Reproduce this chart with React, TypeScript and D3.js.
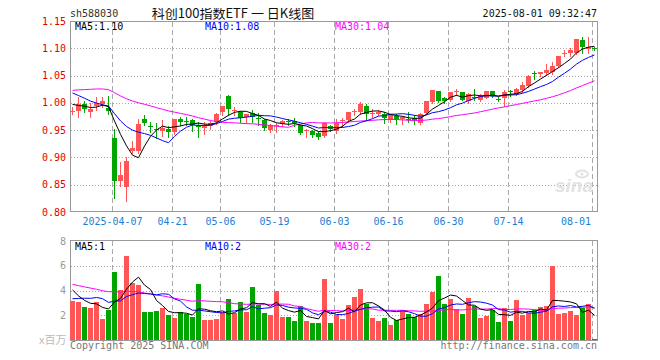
import * as d3 from "d3";

// closes and volumes of the 29 sessions before the first visible candle (only feed the MA lines)
const closesBefore = [
  0.968, 0.975, 0.972, 0.98, 1.005, 1.018, 1.03, 1.042, 1.05, 1.045, 1.055, 1.048, 1.04, 1.052, 1.045,
  1.035, 1.04, 1.03, 1.032, 1.041, 1.045, 1.038, 1.042, 1.035, 1.035, 1.008, 0.995, 1.002, 0.996,
];
const volumesBefore = [
  6.2, 5.8, 5.5, 6.0, 5.2, 4.8, 5.6, 5.0, 4.6, 5.3, 4.9, 5.4, 4.7, 5.1, 4.4, 4.8, 5.0, 4.6, 4.4, 4.4,
  2.8, 2.5, 2.7, 2.4, 2.65, 5.5, 4.5, 3.8, 3.28,
];

// 2025-03-26 .. 2025-08-01, one entry per trading day
const opens = [
  0.983, 0.985, 0.998, 0.983, 0.994, 0.997, 0.991, 0.936, 0.857, 0.845,
  0.911, 0.911, 0.97, 0.958, 0.953, 0.948, 0.953, 0.946, 0.97, 0.967,
  0.968, 0.96, 0.954, 0.957, 0.965, 0.983, 1.012, 0.985, 0.983, 0.974,
  0.982, 0.973, 0.969, 0.951, 0.958, 0.962, 0.967, 0.966, 0.959, 0.949,
  0.949, 0.944, 0.94, 0.958, 0.948, 0.966, 0.968, 0.984, 0.984, 0.995,
  0.979, 0.979, 0.979, 0.968, 0.976, 0.97, 0.971, 0.973, 0.963, 0.981,
  1.002, 1.021, 1.009, 1.006, 1.019, 1.019, 1.004, 1.01, 1.006, 1.009,
  1.021, 1.007, 1.009, 1.021, 1.016, 1.023, 1.031, 1.055, 1.053, 1.054,
  1.057, 1.068, 1.09, 1.092, 1.091, 1.115, 1.098, 1.1,
];
const highs = [
  0.992, 1.01, 1.003, 1.0, 1.011, 1.011, 1.013, 0.952, 0.891, 0.901,
  0.931, 0.971, 0.977, 0.965, 0.963, 0.968, 0.957, 0.97, 0.974, 0.975,
  0.971, 0.965, 0.965, 0.966, 0.982, 0.994, 1.015, 0.992, 0.985, 0.98,
  0.987, 0.981, 0.971, 0.962, 0.963, 0.969, 0.97, 0.973, 0.96, 0.952,
  0.951, 0.948, 0.965, 0.959, 0.97, 0.972, 0.984, 0.988, 1.002, 0.997,
  0.989, 0.986, 0.983, 0.98, 0.98, 0.976, 0.984, 0.978, 0.981, 1.003,
  1.024, 1.022, 1.011, 1.02, 1.025, 1.02, 1.018, 1.026, 1.016, 1.022,
  1.022, 1.011, 1.023, 1.023, 1.028, 1.039, 1.051, 1.059, 1.057, 1.072,
  1.074, 1.086, 1.096, 1.1, 1.117, 1.12, 1.12, 1.102,
];
const lows = [
  0.98, 0.974, 0.984, 0.974, 0.986, 0.993, 0.98, 0.825, 0.848, 0.82,
  0.909, 0.909, 0.959, 0.946, 0.936, 0.94, 0.938, 0.943, 0.959, 0.959,
  0.949, 0.938, 0.943, 0.953, 0.962, 0.977, 0.977, 0.978, 0.965, 0.963,
  0.965, 0.96, 0.951, 0.946, 0.946, 0.957, 0.96, 0.958, 0.943, 0.938,
  0.938, 0.933, 0.937, 0.949, 0.944, 0.955, 0.965, 0.978, 0.98, 0.969,
  0.975, 0.977, 0.963, 0.965, 0.962, 0.962, 0.965, 0.962, 0.962, 0.979,
  1.0, 1.002, 1.0, 1.003, 1.014, 1.005, 0.999, 1.005, 1.004, 1.008,
  1.01, 1.003, 0.994, 1.012, 1.014, 1.02, 1.029, 1.043, 1.049, 1.051,
  1.053, 1.066, 1.086, 1.086, 1.09, 1.091, 1.091, 1.096,
];
const closes = [
  0.985, 0.998, 0.989, 0.989, 1.0, 1.003, 0.985, 0.856, 0.868, 0.894,
  0.918, 0.961, 0.963, 0.957, 0.952, 0.954, 0.947, 0.97, 0.965, 0.966,
  0.959, 0.955, 0.96, 0.963, 0.98, 0.994, 0.989, 0.987, 0.973, 0.979,
  0.974, 0.972, 0.954, 0.959, 0.959, 0.966, 0.965, 0.963, 0.944, 0.95,
  0.942, 0.937, 0.964, 0.952, 0.964, 0.968, 0.983, 0.985, 0.997, 0.979,
  0.981, 0.984, 0.973, 0.977, 0.968, 0.975, 0.97, 0.968, 0.979, 1.003,
  1.023, 1.003, 1.003, 1.019, 1.021, 1.006, 1.017, 1.009, 1.012, 1.021,
  1.012, 1.006, 1.02, 1.02, 1.026, 1.033, 1.05, 1.053, 1.056, 1.06,
  1.068, 1.085, 1.092, 1.096, 1.117, 1.103, 1.103, 1.099,
];
const volumes = [
  3.17, 3.09, 2.68, 2.6, 3.09, 1.72, 2.44, 5.5, 4.05, 6.79,
  4.64, 4.43, 2.28, 2.28, 2.34, 2.6, 2.04, 1.77, 2.28, 2.12,
  1.88, 4.54, 1.64, 1.64, 1.72, 2.23, 3.3, 2.15, 3.09, 2.28,
  4.27, 2.85, 2.17, 2.04, 3.97, 1.83, 1.88, 1.53, 2.74, 1.53,
  1.37, 1.37, 4.94, 1.37, 2.04, 1.72, 2.82, 3.46, 4.11, 2.9,
  1.77, 1.53, 1.77, 1.21, 1.61, 2.36, 2.12, 1.88, 2.09, 2.9,
  3.89, 5.18, 2.9, 3.3, 2.5, 2.09, 3.38, 2.77, 1.77, 1.96,
  2.42, 1.45, 2.6, 1.53, 3.22, 2.04, 2.17, 2.42, 2.66, 2.77,
  5.99, 2.09, 2.17, 2.36, 2.01, 2.6, 2.9, 0.08,
];

const dateTickDays = [7, 17, 25, 34, 44, 53, 63, 73, 87];
const dateTickLabels = ["2025-04-07", "04-21", "05-06", "05-19", "06-03", "06-16", "06-30", "07-14", "08-01"];
const priceTicks = [0.8, 0.85, 0.9, 0.95, 1.0, 1.05, 1.1, 1.15];
const volumeTicks = [2, 4, 6, 8];

const RED = "#ff5555";
const GREEN = "#00a600";
const MONO = "'DejaVu Sans Mono', monospace";
const CJK = "'Noto Sans CJK SC', sans-serif";

const movingAvg = (before: number[], values: number[], n: number) => {
  const all = before.concat(values);
  return values.map((_, i) => {
    const end = before.length + i + 1;
    return d3.mean(all.slice(end - n, end)) as number;
  });
};
const trunc2 = (v: number) => (Math.floor(v * 100 + 1e-9) / 100).toFixed(2);

const App = () => {
  const n = closes.length;
  const x = d3
    .scaleBand<number>()
    .domain(d3.range(n))
    .range([69.5, 597.5])
    .paddingInner(1 / 6)
    .paddingOuter(1 / 12);
  const bw = x.bandwidth();
  const cx = (i: number) => (x(i) as number) + bw / 2;

  const y = d3.scaleLinear().domain([0.8, 1.15]).range([212, 21]);
  const yv = d3.scaleLinear().domain([0, 8]).range([340, 241]);

  const ma5 = movingAvg(closesBefore, closes, 5);
  const ma10 = movingAvg(closesBefore, closes, 10);
  const ma30 = movingAvg(closesBefore, closes, 30);
  const vma5 = movingAvg(volumesBefore, volumes, 5);
  const vma10 = movingAvg(volumesBefore, volumes, 10);
  const vma30 = movingAvg(volumesBefore, volumes, 30);

  const priceLine = d3.line<number>().x((_, i) => cx(i)).y((d) => y(d));
  const volLine = d3.line<number>().x((_, i) => cx(i)).y((d) => yv(d));

  const crisp = (v: number) => Math.round(v) + 0.5;
  const gridX = dateTickDays.map((d) => (x(d) as number) + 0.5);

  return (
    <svg width={660} height={360} style={{ display: "block", margin: "-8px", background: "#fff" }}>
      {/* header */}
      <text x={70} y={17} fontFamily={MONO} fontSize={10} fill="#333">sh588030</text>
      <text x={233} y={18} fontFamily={CJK} fontSize={13} fill="#111" textAnchor="middle" style={{ whiteSpace: "pre" }}>
        科创100指数ETF 一 日K线图
      </text>
      <text x={597} y={17} fontFamily={MONO} fontSize={10} fill="#111" textAnchor="end">
        2025-08-01 09:32:47
      </text>

      {/* horizontal grid */}
      {priceTicks.slice(1, -1).map((t) => (
        <line key={t} x1={71} x2={597} y1={crisp(y(t))} y2={crisp(y(t))} stroke="#aaa" strokeDasharray="1,2" />
      ))}
      {volumeTicks.slice(0, -1).map((t) => (
        <line key={t} x1={71} x2={597} y1={crisp(yv(t))} y2={crisp(yv(t))} stroke="#aaa" strokeDasharray="1,2" />
      ))}
      {/* vertical dashed grid */}
      {gridX.map((gx, k) => (
        <g key={k}>
          <line x1={gx} x2={gx} y1={22} y2={212} stroke="#aaa" strokeDasharray="5,3" />
          <line x1={gx} x2={gx} y1={241} y2={340} stroke="#aaa" strokeDasharray="5,3" />
        </g>
      ))}

      {/* sina watermark */}
      <g>
        <ellipse cx={582} cy={174} rx={6} ry={3.5} fill="none" stroke="#e2e2e2" strokeWidth={2} />
        <circle cx={582} cy={174} r={1.5} fill="#e2e2e2" />
        <text x={555} y={192} fontFamily="'Liberation Sans', Arial, sans-serif" fontSize={19} fontStyle="italic" fontWeight="bold" fill="#e2e2e2">
          sina
        </text>
      </g>

      {/* frames */}
      <rect x={70.5} y={21.5} width={527} height={190} fill="none" stroke="#999" />
      <rect x={70.5} y={240.5} width={527} height={100} fill="none" stroke="#999" />

      {/* price axis labels */}
      {priceTicks.map((t) => (
        <text key={t} x={66} y={y(t)} dy="0.35em" fontFamily={MONO} fontSize={10} fill="#e60000" textAnchor="end">
          {t.toFixed(2)}
        </text>
      ))}
      {volumeTicks.map((t) => (
        <text key={t} x={66} y={yv(t)} dy="0.35em" fontFamily={MONO} fontSize={10} fill="#999" textAnchor="end">
          {t}
        </text>
      ))}
      <text x={39} y={344} fontFamily={CJK} fontSize={11} fill="#bbb">x百万</text>

      {/* date labels */}
      {dateTickLabels.map((lbl, k) => {
        const w = lbl.length * 6;
        let tx = gridX[k];
        if (tx + w / 2 > 591) tx = 591 - w / 2;
        return (
          <text key={lbl} x={tx} y={225} fontFamily={MONO} fontSize={10} fill="#1a7fd4" textAnchor="middle">
            {lbl}
          </text>
        );
      })}

      {/* candles */}
      {closes.map((c, i) => {
        const o = opens[i];
        const up = c >= o;
        const color = up ? RED : GREEN;
        const x0 = x(i) as number;
        const top = Math.round(y(Math.max(o, c)));
        const h = Math.max(1, Math.round(y(Math.min(o, c))) - top);
        return (
          <g key={i}>
            <line x1={x0 + 2.5} x2={x0 + 2.5} y1={Math.round(y(highs[i]))} y2={Math.round(y(lows[i])) + 1} stroke={color} />
            <rect x={x0} y={top} width={bw} height={h} fill={color} />
          </g>
        );
      })}

      {/* price MAs */}
      <path d={priceLine(ma30) as string} fill="none" stroke="#ff00ff" strokeWidth={1} />
      <path d={priceLine(ma10) as string} fill="none" stroke="#0000ff" strokeWidth={1} />
      <path d={priceLine(ma5) as string} fill="none" stroke="#000" strokeWidth={1} />

      {/* volume bars */}
      {volumes.map((v, i) => {
        const up = closes[i] >= opens[i];
        const top = Math.round(yv(v));
        return (
          <rect key={i} x={x(i) as number} y={top} width={bw} height={Math.max(1, 340 - top)} fill={up ? RED : GREEN} />
        );
      })}
      <path d={volLine(vma30) as string} fill="none" stroke="#ff00ff" strokeWidth={1} />
      <path d={volLine(vma10) as string} fill="none" stroke="#0000ff" strokeWidth={1} />
      <path d={volLine(vma5) as string} fill="none" stroke="#000" strokeWidth={1} />

      {/* legends */}
      <text x={75} y={30} fontFamily={MONO} fontSize={10} fill="#000">MA5:{trunc2(ma5[n - 1])}</text>
      <text x={205} y={30} fontFamily={MONO} fontSize={10} fill="#0000ff">MA10:{trunc2(ma10[n - 1])}</text>
      <text x={335} y={30} fontFamily={MONO} fontSize={10} fill="#ff00ff">MA30:{trunc2(ma30[n - 1])}</text>
      <text x={75} y={250} fontFamily={MONO} fontSize={10} fill="#000">MA5:{Math.floor(vma5[n - 1])}</text>
      <text x={205} y={250} fontFamily={MONO} fontSize={10} fill="#0000ff">MA10:{Math.floor(vma10[n - 1])}</text>
      <text x={335} y={250} fontFamily={MONO} fontSize={10} fill="#ff00ff">MA30:{Math.floor(vma30[n - 1])}</text>

      {/* footer */}
      <text x={70} y={349} fontFamily={MONO} fontSize={10} fill="#777">Copyright 2025 SINA.COM</text>
      <text x={597} y={349} fontFamily={MONO} fontSize={10} fill="#777" textAnchor="end">
        http://finance.sina.com.cn
      </text>
    </svg>
  );
};

export default App;
